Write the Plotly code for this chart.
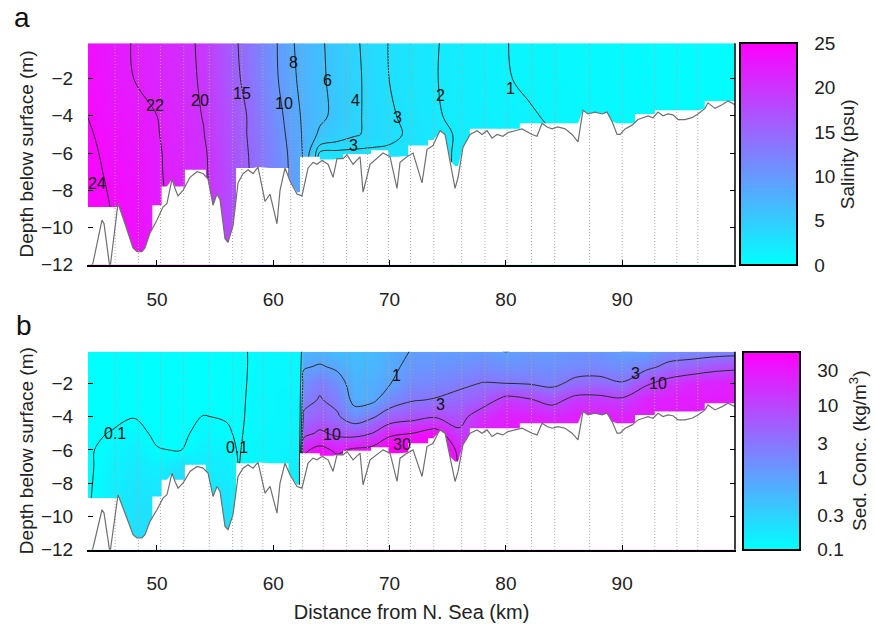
import numpy as np
import plotly.graph_objects as go

# ---------------- data ----------------
# bathymetry along the channel (km from North Sea, depth m)
bathy_km = [44.07, 44.50, 45.27, 45.45, 45.96, 46.65, 47.25, 47.94, 48.28, 48.71, 48.97, 49.40, 50.00,
            50.52, 50.86, 51.29, 51.55, 51.81, 52.24, 52.84, 53.44, 53.96, 54.39, 54.82, 55.16, 55.42,
            55.85, 56.11, 56.54, 56.97, 57.40, 57.83, 58.26, 58.69, 59.29, 59.72, 60.32, 60.58, 61.01,
            61.44, 62.04, 62.47, 62.99, 63.42, 63.76, 64.19, 64.71, 65.14, 65.48, 66.00, 66.34, 66.86,
            67.46, 67.72, 68.32, 68.92, 69.44, 70.04, 70.64, 70.90, 71.50, 72.02, 72.79, 73.22, 73.74,
            74.17, 74.34, 74.77, 75.20, 75.63, 75.89, 76.31, 76.92, 77.52, 77.95, 78.38, 78.81, 79.24,
            79.75, 80.18, 80.79, 81.39, 82.25, 82.68, 83.11, 83.54, 83.97, 84.48, 85.09, 85.69, 86.20,
            86.63, 87.06, 87.67, 88.27, 88.70, 89.13, 89.56, 89.82, 90.25, 90.85, 91.36, 91.79, 92.22,
            92.65, 93.08, 93.51, 93.94, 94.37, 94.80, 95.40, 96.00, 96.52, 97.12, 97.38, 97.98, 98.59,
            99.10, 99.70]
bathy_m = [-12.5, -11.9, -9.6, -9.8, -12.2, -8.7, -9.8, -11.1, -11.3, -11.3, -11.1, -10.3, -9.6,
           -8.9, -8.7, -7.4, -7.9, -8.3, -8.0, -7.3, -7.0, -7.1, -7.4, -8.8, -8.2, -8.5,
           -10.6, -10.8, -9.9, -7.6, -7.1, -6.9, -7.1, -6.75, -8.6, -8.2, -9.8, -8.0, -6.8,
           -7.5, -8.2, -8.3, -6.8, -6.5, -6.6, -6.4, -6.6, -7.3, -6.3, -6.3, -6.1, -6.6,
           -6.2, -8.1, -6.6, -6.3, -6.0, -6.2, -7.9, -6.5, -6.2, -6.0, -7.6, -5.8, -5.6,
           -5.0, -4.8, -5.0, -6.4, -7.9, -7.3, -5.7, -5.0, -4.8, -5.0, -4.8, -5.2, -5.0,
           -5.1, -4.9, -4.8, -4.7, -5.0, -5.1, -4.4, -4.6, -4.7, -4.6, -4.7, -5.0, -5.4,
           -3.7, -3.9, -3.8, -3.9, -3.8, -4.3, -5.0, -5.0, -4.7, -4.5, -4.2, -4.1, -4.0,
           -4.1, -3.8, -4.0, -3.9, -3.95, -4.2, -4.2, -4.1, -3.9, -3.6, -3.3, -3.6, -3.4,
           -3.2, -3.4]

# deepest sampled level of the gridded data (stepwise)
floor_edges_km = [44.0, 46.6, 49.6, 50.4, 52.4, 54.2, 56.8, 61.3, 62.3, 64.0, 66.0, 68.4, 69.9,
                  71.6, 73.3, 74.5, 76.9, 81.2, 91.1, 92.8, 97.1, 100.0]
floor_depth_m = [-8.9, -11.6, -8.8, -7.8, -6.9, -11.0, -6.8, -8.1, -6.2, -6.35, -6.05, -5.85,
                 -6.2, -5.6, -5.3, -6.7, -4.7, -4.4, -3.9, -3.7, -3.2]

# CTD station positions (km)
stations_km = [46.4, 48.4, 50.3, 52.3, 54.5, 56.5, 57.3, 59.1, 61.5, 62.5, 64.3, 66.3, 68.1, 69.9,
               71.8, 73.8, 76.2, 78.2, 80.1, 82.2, 84.2, 87.2, 90.0, 92.8, 94.7, 96.5]

# salinity (psu) grid: rows = depths, columns = distances
sal_x = [44, 46, 48, 50, 52, 54, 56, 58, 60, 61.5, 62.5, 64, 65.5, 67, 68.5, 70, 72, 74, 76, 78, 80,
         82, 84, 88, 92, 96, 100]
sal_depth = [0, -2, -4, -5, -6, -7, -9, -12]
sal_0 = [23.6, 22.7, 21.9, 21.3, 20.7, 19.6, 16.4, 13.5, 10.5, 8.3, 7.3, 6.3, 5.2, 4.2, 3.5, 2.95,
         2.5, 2.05, 1.7, 1.35, 1.02, 0.85, 0.75, 0.6, 0.45, 0.3, 0.2]
sal_2 = [23.8, 22.9, 22.0, 21.5, 20.8, 19.7, 16.7, 13.8, 10.6, 8.5, 7.5, 6.4, 5.3, 4.3, 3.55, 2.98,
         2.5, 2.03, 1.7, 1.35, 1.05, 0.87, 0.76, 0.6, 0.45, 0.3, 0.2]
sal_4 = [24.0, 23.3, 22.6, 22.0, 21.1, 19.9, 17.4, 14.6, 11.3, 9.0, 7.8, 6.5, 5.4, 4.2, 3.7, 3.15,
         2.65, 2.1, 1.75, 1.5, 1.25, 1.08, 0.9, 0.7, 0.5, 0.35, 0.25]
sal_5 = [24.2, 23.5, 22.8, 22.1, 21.2, 20.1, 17.5, 14.6, 11.6, 9.3, 7.9, 5.6, 4.8, 4.15, 3.7, 3.3,
         2.75, 2.25, 1.9, 1.6, 1.35, 1.2, 1.0, 0.7, 0.5, 0.35, 0.25]
sal_6 = [24.4, 23.6, 23.0, 22.2, 21.3, 20.4, 17.7, 14.8, 11.8, 9.6, 8.0, 2.8, 2.7, 2.7, 2.7, 2.75,
         2.4, 2.2, 1.9, 1.6, 1.4, 1.2, 1.0, 0.7, 0.5, 0.35, 0.25]
sal_7 = [24.4, 23.8, 23.2, 22.2, 21.4, 20.5, 17.8, 14.9, 11.9, 9.7, 8.1, 2.8, 2.7, 2.7, 2.7, 2.75,
         2.4, 2.2, 1.9, 1.6, 1.4, 1.2, 1.0, 0.7, 0.5, 0.35, 0.25]
sal_9 = [24.6, 24.0, 23.4, 22.3, 21.5, 20.6, 18.0, 15.0, 12.0, 9.8, 8.2, 2.8, 2.7, 2.7, 2.7, 2.75,
         2.4, 2.2, 1.9, 1.6, 1.4, 1.2, 1.0, 0.7, 0.5, 0.35, 0.25]
sal_12 = [24.8, 24.2, 23.6, 22.4, 21.6, 20.7, 18.1, 15.1, 12.1, 9.9, 8.3, 2.8, 2.7, 2.7, 2.7, 2.75,
          2.4, 2.2, 1.9, 1.6, 1.4, 1.2, 1.0, 0.7, 0.5, 0.35, 0.25]
sal_levels = [1, 2, 3, 4, 6, 8, 10, 15, 20, 22, 24]
sal_ticks = [0, 5, 10, 15, 20, 25]

# sediment concentration (kg/m3): one profile per distance, at sed_depth
sed_x = [44, 46, 48, 50, 52, 54, 56, 57, 58, 60, 62.2, 62.6, 64, 65.5, 67, 68.5, 70, 72, 74, 76,
         78, 80, 82, 84, 86, 88, 90, 92, 94, 96, 98, 100]
sed_depth = [0, -1, -2, -3, -4, -5, -6, -7, -9, -12]
sed_profiles = [
    [0.06, 0.06, 0.065, 0.07, 0.08, 0.09, 0.092, 0.09, 0.092, 0.099],
    [0.06, 0.06, 0.065, 0.075, 0.088, 0.102, 0.12, 0.13, 0.15, 0.16],
    [0.06, 0.06, 0.07, 0.08, 0.098, 0.12, 0.15, 0.17, 0.2, 0.22],
    [0.06, 0.06, 0.065, 0.07, 0.08, 0.09, 0.103, 0.14, 0.2, 0.24],
    [0.065, 0.065, 0.07, 0.075, 0.08, 0.088, 0.097, 0.2, 0.28, 0.28],
    [0.06, 0.062, 0.068, 0.085, 0.102, 0.12, 0.14, 0.16, 0.18, 0.2],
    [0.06, 0.062, 0.068, 0.08, 0.095, 0.11, 0.13, 0.15, 0.2, 0.25],
    [0.07, 0.07, 0.075, 0.08, 0.085, 0.09, 0.095, 0.098, 0.12, 0.15],
    [0.11, 0.11, 0.112, 0.115, 0.115, 0.118, 0.12, 0.12, 0.125, 0.13],
    [0.12, 0.12, 0.12, 0.12, 0.12, 0.125, 0.13, 0.13, 0.14, 0.14],
    [0.12, 0.12, 0.12, 0.125, 0.125, 0.13, 0.14, 0.15, 0.16, 0.16],
    [0.6, 0.9, 1.5, 2.2, 3.5, 7, 25, 40, 40, 40],
    [0.6, 1.1, 2.5, 3.2, 5, 12, 40, 60, 60, 60],
    [0.5, 0.85, 1.5, 2.3, 3.4, 8, 25, 50, 50, 50],
    [0.5, 0.55, 0.65, 0.75, 1.6, 7, 35, 60, 60, 60],
    [0.55, 0.6, 0.75, 0.8, 2.6, 10, 40, 60, 60, 60],
    [0.7, 0.8, 0.95, 1.8, 5, 25, 60, 60, 60, 60],
    [1.05, 1.3, 1.8, 2.8, 7, 30, 60, 60, 60, 60],
    [1.1, 1.4, 2.0, 3.2, 9, 45, 60, 60, 60, 60],
    [1.1, 1.5, 2.5, 4, 7, 12, 26, 28, 28, 28],
    [1.2, 1.8, 3.1, 6, 18, 26, 28, 28, 28, 28],
    [0.95, 1.5, 3.0, 14, 25, 28, 28, 28, 28, 28],
    [1.2, 1.6, 2.8, 11, 25, 28, 28, 28, 28, 28],
    [1.15, 1.5, 2.3, 7, 22, 28, 28, 28, 28, 28],
    [1.3, 1.8, 4, 14, 25, 28, 28, 28, 28, 28],
    [1.3, 1.9, 4.2, 14, 25, 28, 28, 28, 28, 28],
    [0.97, 1.6, 3.2, 12, 25, 28, 28, 28, 28, 28],
    [0.98, 2.2, 8.5, 22, 27, 28, 28, 28, 28, 28],
    [1.5, 4, 15, 26, 28, 28, 28, 28, 28, 28],
    [1.6, 5, 22, 27, 28, 28, 28, 28, 28, 28],
    [1.7, 7, 24, 28, 28, 28, 28, 28, 28, 28],
    [1.8, 8, 25, 28, 28, 28, 28, 28, 28, 28],
]
sed_levels = [0.1, 0.3, 1, 3, 10, 30]
sed_ticks = [0.1, 0.3, 1, 3, 10, 30]
sed_max = 55

x_ticks = [50, 60, 70, 80, 90]
y_ticks = [-12, -10, -8, -6, -4, -2]

# contour labels: (text, km, depth)
sal_labels = [("24", 44.84, -7.63), ("22", 49.83, -3.47), ("20", 53.70, -3.16), ("15", 57.31, -2.79),
              ("10", 60.92, -3.32), ("8", 61.78, -1.11), ("6", 64.62, -2.10), ("4", 67.11, -3.16),
              ("3", 70.72, -4.10), ("3", 66.86, -5.58), ("2", 74.34, -2.90), ("1", 80.36, -2.53)]
sed_labels = [("0.1", 46.4, -5.0), ("0.1", 56.86, -5.85), ("1", 70.57, -1.53), ("3", 74.42, -3.30),
              ("10", 65.08, -5.08), ("30", 71.08, -5.67), ("3", 91.13, -1.41), ("10", 93.10, -2.0)]

# ---------------- figure ----------------
FONT = "Liberation Sans, Arial, sans-serif"
cscale = [[0, "#00ffff"], [1, "#ff00ff"]]
W, H = 875, 626

fig = go.Figure()

# white mask below the sampled data / bed
edges = np.array(floor_edges_km)
xs = np.unique(np.concatenate([np.array(bathy_km), edges[1:-1] - 1e-4, edges[1:-1] + 1e-4,
                               [44.0, 100.0]]))
idx = np.clip(np.searchsorted(edges, xs, side="right") - 1, 0, len(floor_depth_m) - 1)
floor_at = np.array(floor_depth_m)[idx]
bed_at = np.interp(xs, bathy_km, bathy_m)
mask_top = np.maximum(bed_at, floor_at)
mask_x = list(xs) + [xs[-1], xs[0]]
mask_y = list(mask_top) + [-14, -14]

st_x, st_y = [], []
for s in stations_km:
    st_x += [s, s, None]
    st_y += [-14, 1, None]


def add_panel(xa, ya, x, y, z, zmin, zmax, levels, cbar):
    fig.add_trace(go.Heatmap(x=x, y=y, z=z, zmin=zmin, zmax=zmax, colorscale=cscale,
                             zsmooth="best", colorbar=cbar, hoverinfo="skip",
                             xaxis=xa, yaxis=ya))
    for lv in levels:
        fig.add_trace(go.Contour(x=x, y=y, z=z, showscale=False, hoverinfo="skip",
                                 contours=dict(type="constraint", operation="=", value=lv,
                                               showlabels=False),
                                 fillcolor="rgba(0,0,0,0)",
                                 line=dict(color="#2a2a2a", width=1),
                                 xaxis=xa, yaxis=ya))
    fig.add_trace(go.Scatter(x=mask_x, y=mask_y, fill="toself", fillcolor="white",
                             line=dict(width=0), mode="lines", hoverinfo="skip",
                             xaxis=xa, yaxis=ya))
    fig.add_trace(go.Scatter(x=st_x, y=st_y, mode="lines",
                             line=dict(color="#a8a8a8", width=1, dash="1px,2px"),
                             hoverinfo="skip", xaxis=xa, yaxis=ya))
    fig.add_trace(go.Scatter(x=bathy_km, y=bathy_m, mode="lines",
                             line=dict(color="#707070", width=1.2),
                             hoverinfo="skip", xaxis=xa, yaxis=ya))


sal_z = np.array([sal_0, sal_2, sal_4, sal_5, sal_6, sal_7, sal_9, sal_12])
sed_z = np.log10(np.array(sed_profiles).T)

cbfont = dict(family=FONT, size=19, color="#222")
cb_a = dict(x=740 / W, xanchor="left", xpad=0, y=1 - 44 / H, yanchor="top", ypad=0,
            len=226 / H, lenmode="fraction", thickness=57, thicknessmode="pixels",
            outlinewidth=2, outlinecolor="black", ticks="outside", ticklen=13,
            tickcolor="rgba(0,0,0,0)", tickvals=sal_ticks, tickfont=cbfont,
            title=dict(text="Salinity (psu)", side="right", font=cbfont))
cb_b = dict(x=743 / W, xanchor="left", xpad=0, y=1 - 358 / H, yanchor="top", ypad=0,
            len=202 / H, lenmode="fraction", thickness=57, thicknessmode="pixels",
            outlinewidth=2, outlinecolor="black", ticks="outside", ticklen=13,
            tickcolor="rgba(0,0,0,0)",
            tickvals=list(np.log10(sed_ticks)), ticktext=[f"{t:g}" for t in sed_ticks],
            tickfont=cbfont,
            title=dict(text="Sed. Conc. (kg/m<sup>3</sup>)", side="right", font=cbfont))

add_panel("x", "y", sal_x, sal_depth, sal_z, 0, 25, sal_levels, cb_a)
add_panel("x2", "y2", sed_x, sed_depth, sed_z, -1, float(np.log10(sed_max)),
          list(np.log10(sed_levels)), cb_b)

xdom = [88 / W, 735 / W]
tickfont = dict(family=FONT, size=19, color="#222")
xcommon = dict(range=[44.07, 99.7], tickvals=x_ticks, ticks="inside", ticklen=5, tickcolor="black",
               showline=True, linecolor="black", linewidth=2, showgrid=False, zeroline=False,
               tickfont=tickfont, domain=xdom, ticklabelstandoff=16)
ycommon = dict(range=[-12, -0.1], tickvals=y_ticks, ticks="inside", ticklen=5, tickcolor="black",
               showline=True, linecolor="rgba(0,0,0,0)", mirror="ticks", showgrid=False,
               zeroline=False, tickfont=tickfont, ticklabelstandoff=10,
               title=dict(text="Depth below surface (m)", font=dict(family=FONT, size=19, color="#222"),
                          standoff=2))

annotations = []
for t, xk, yd in sal_labels:
    annotations.append(dict(x=xk, y=yd, xref="x", yref="y", text=t, showarrow=False,
                            font=dict(family=FONT, size=16, color="#111")))
for t, xk, yd in sed_labels:
    annotations.append(dict(x=xk, y=yd, xref="x2", yref="y2", text=t, showarrow=False,
                            font=dict(family=FONT, size=16, color="#111")))
annotations.append(dict(x=22 / W, y=1 - 18 / H, xref="paper", yref="paper", text="a",
                        xanchor="center", yanchor="middle",
                        showarrow=False, font=dict(family=FONT, size=28, color="#111")))
annotations.append(dict(x=24 / W, y=1 - 331 / H, xref="paper", yref="paper", text="b",
                        xanchor="center", yanchor="middle",
                        showarrow=False, font=dict(family=FONT, size=28, color="#111")))

shapes = []
for xr, yr in (("x", "y"), ("x2", "y2")):
    shapes.append(dict(type="line", xref=f"{xr} domain", yref=f"{yr} domain", x0=1, x1=1, y0=0, y1=1,
                       line=dict(color="black", width=1.5)))

fig.update_layout(
    width=W, height=H, margin=dict(l=0, r=0, t=0, b=0),
    paper_bgcolor="white", plot_bgcolor="white", showlegend=False,
    font=dict(family=FONT, size=19, color="#222"),
    xaxis=dict(**xcommon, anchor="y"),
    yaxis=dict(**ycommon, domain=[1 - 269.5 / H, 1 - 44 / H], anchor="x"),
    xaxis2=dict(**xcommon, anchor="y2",
                title=dict(text="Distance from N. Sea (km)",
                           font=dict(family=FONT, size=20, color="#222"), standoff=12)),
    yaxis2=dict(**ycommon, domain=[1 - 559.5 / H, 1 - 358 / H], anchor="x2"),
    annotations=annotations, shapes=shapes,
)

fig.write_html("out.html")
